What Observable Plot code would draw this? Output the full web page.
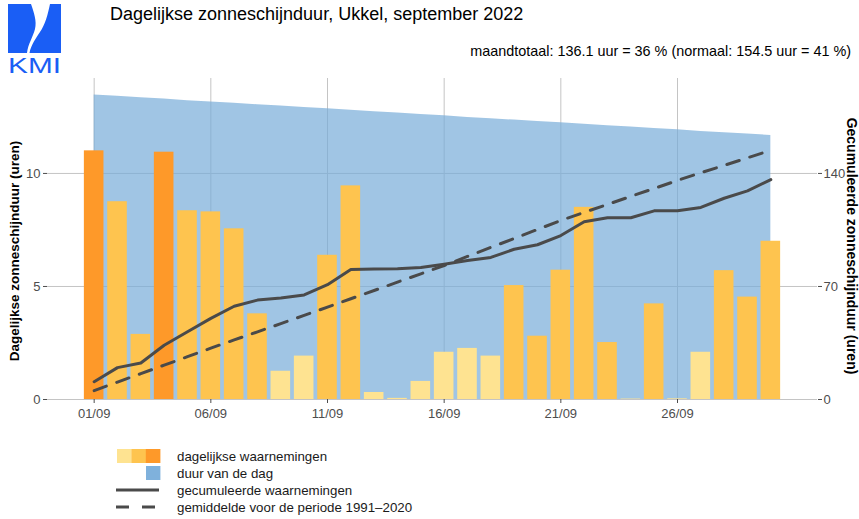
<!DOCTYPE html>
<html>
<head>
<meta charset="utf-8">
<script src="https://cdn.jsdelivr.net/npm/d3@7"></script>
<script src="https://cdn.jsdelivr.net/npm/@observablehq/plot@0.6"></script>
<style>
  body { margin: 0; background: #fff; font-family: "Liberation Sans", Arial, Helvetica, sans-serif; }
  #wrap { position: relative; width: 859px; height: 519px; overflow: hidden; background: #fff; }
  #chart { position: absolute; left: 0; top: 0; }
  #logo { position: absolute; left: 0; top: 0; }
  #title { position: absolute; left: 110px; top: 5px; font-size: 18px; line-height: 1; color: #000; white-space: nowrap; }
  #sub { position: absolute; right: 8px; top: 44px; font-size: 14.4px; line-height: 1; color: #000; white-space: nowrap; }
  #legend { position: absolute; left: 0; top: 440px; }
</style>
</head>
<body>
<div id="wrap">
  <div id="chart"></div>
  <svg id="logo" width="70" height="78" viewBox="0 0 70 78">
    <rect x="8" y="4" width="53" height="49" fill="#1a5ef5"></rect>
    <path d="M31,4 C34,13 37,21 35,29 C33,37 28,44 27,53 L29.5,53 C31,45 36,38 40,32 C45,25 48,14 50,4 Z" fill="#fff"></path>
    <text x="8" y="73" font-family="Liberation Sans, Arial, sans-serif" font-size="22" fill="#1a5ef5" textLength="53" lengthAdjust="spacingAndGlyphs">KMI</text>
  </svg>
  <div id="title">Dagelijkse zonneschijnduur, Ukkel, september 2022</div>
  <div id="sub">maandtotaal: 136.1 uur = 36 % (normaal: 154.5 uur = 41 %)</div>
  <svg id="legend" width="859" height="79"></svg>
</div>
<script>
// ---- data ----
const days = [1,2,3,4,5,6,7,8,9,10,11,12,13,14,15,16,17,18,19,20,21,22,23,24,25,26,27,28,29,30];
const sunshine = [11.0, 8.75, 2.88, 10.94, 8.35, 8.30, 7.55, 3.79, 1.25, 1.92,
                  6.38, 9.45, 0.31, 0.05, 0.80, 2.09, 2.26, 1.92, 5.04, 2.80,
                  5.72, 8.50, 2.52, 0.02, 4.23, 0.03, 2.09, 5.70, 4.53, 7.00];
const sunClass = ["hoog","midden","midden","hoog","midden","midden","midden","midden","laag","laag",
                  "midden","midden","laag","laag","laag","laag","laag","laag","midden","midden",
                  "midden","midden","midden","laag","midden","laag","laag","midden","midden","midden"];
const dayLength = [13.47, 13.41, 13.35, 13.29, 13.22, 13.16, 13.10, 13.04, 12.98, 12.92,
                   12.86, 12.79, 12.73, 12.67, 12.61, 12.55, 12.48, 12.42, 12.36, 12.30,
                   12.24, 12.18, 12.11, 12.05, 11.99, 11.93, 11.86, 11.80, 11.74, 11.68];
const normalCum = [5.5, 10.8, 16.0, 21.3, 26.5, 31.8, 36.9, 41.9, 47.0, 52.1,
                   57.2, 62.4, 67.5, 72.7, 77.8, 83.0, 88.6, 94.2, 99.7, 105.3,
                   110.9, 115.9, 120.8, 125.8, 130.7, 135.7, 140.4, 145.0, 149.7, 154.3];
const classDomain = ["laag","midden","hoog"];
const classColors = ["#FEE391","#FEC44F","#FE9929"];
const xTickDays = [1, 6, 11, 16, 21, 26];
const xTickLabels = ["01/09","06/09","11/09","16/09","21/09","26/09"];
const yLeftTicks = [0, 5, 10];
const cumFactor = 14; // right axis: 70 per 5 hours
const yLabelLeft = "Dagelijkse zonneschijnduur (uren)";
const yLabelRight = "Gecumuleerde zonneschijnduur (uren)";
const legendLabels = ["dagelijkse waarnemingen","duur van de dag","gecumuleerde waarnemingen","gemiddelde voor de periode 1991\u20132020"];

const cum = d3.cumsum(sunshine);
const rows = days.map((d, i) => ({
  day: d, sun: sunshine[i], cls: sunClass[i], daylen: dayLength[i],
  cum: cum[i], normal: normalCum[i]
}));

const FONT = '"Liberation Sans", Arial, Helvetica, sans-serif';
const lineColor = "#4a4a4a";

const chart = Plot.plot({
  width: 859,
  height: 440,
  marginLeft: 47,
  marginRight: 42,
  marginTop: 78,
  marginBottom: 41,
  style: { fontFamily: FONT, fontSize: "13px", background: "transparent", overflow: "visible" },
  x: { domain: [-1, 32], axis: null },
  y: { domain: [0, 14.2], axis: null },
  color: { type: "ordinal", domain: classDomain, range: classColors },
  marks: [
    Plot.gridY(yLeftTicks, { stroke: "#c4c4c4", strokeOpacity: 1 }),
    Plot.gridX(xTickDays, { stroke: "#c4c4c4", strokeOpacity: 1 }),
    Plot.areaY(rows, { x: "day", y: "daylen", fill: "#78acd9", fillOpacity: 0.7 }),
    Plot.rect(rows, { x1: d => d.day - 0.42, x2: d => d.day + 0.42, y1: 0, y2: "sun", fill: "cls" }),
    Plot.lineY(rows, { x: "day", y: d => d.normal / cumFactor, stroke: lineColor, strokeWidth: 3, strokeDasharray: "13,11" }),
    Plot.lineY(rows, { x: "day", y: d => d.cum / cumFactor, stroke: lineColor, strokeWidth: 3 }),
    Plot.axisY(yLeftTicks, { anchor: "left", tickSize: 4, tickPadding: 3, label: null, color: "#4d4d4d" }),
    Plot.axisY(yLeftTicks, { anchor: "right", tickSize: 4, tickPadding: 2, tickFormat: d => d * cumFactor, label: null, color: "#4d4d4d" }),
    Plot.axisX(xTickDays, { anchor: "bottom", tickSize: 4, tickPadding: 5, tickFormat: (d, i) => xTickLabels[xTickDays.indexOf(d)], label: null, color: "#4d4d4d" }),
    Plot.text([yLabelLeft], { text: d => d, frameAnchor: "left", textAnchor: "middle", dx: -33, dy: 12, rotate: -90, fontWeight: "bold", fontSize: 13.5, fill: "#000" }),
    Plot.text([yLabelRight], { text: d => d, frameAnchor: "right", textAnchor: "middle", dx: 34, dy: 7, rotate: 90, fontWeight: "bold", fontSize: 14, fill: "#000" })
  ]
});
document.getElementById("chart").appendChild(chart);

// ---- legend ----
const lg = d3.select("#legend");
const rowY = [16, 33, 50, 67];
classColors.forEach((c, i) => {
  lg.append("rect").attr("x", 117 + i * 14.4).attr("y", rowY[0] - 7).attr("width", 14.6).attr("height", 14).attr("fill", c);
});
lg.append("rect").attr("x", 146).attr("y", rowY[1] - 7).attr("width", 14.4).attr("height", 14).attr("fill", "#7fb1dc");
lg.append("line").attr("x1", 116).attr("x2", 159).attr("y1", rowY[2]).attr("y2", rowY[2]).attr("stroke", lineColor).attr("stroke-width", 3);
lg.append("line").attr("x1", 116).attr("x2", 159).attr("y1", rowY[3]).attr("y2", rowY[3]).attr("stroke", lineColor).attr("stroke-width", 3).attr("stroke-dasharray", "13,13");
legendLabels.forEach((t, i) => {
  lg.append("text").attr("x", 177).attr("y", rowY[i]).attr("dy", "0.36em")
    .attr("font-family", FONT).attr("font-size", 13.3).attr("fill", "#1a1a1a").text(t);
});
</script>
</body>
</html>
